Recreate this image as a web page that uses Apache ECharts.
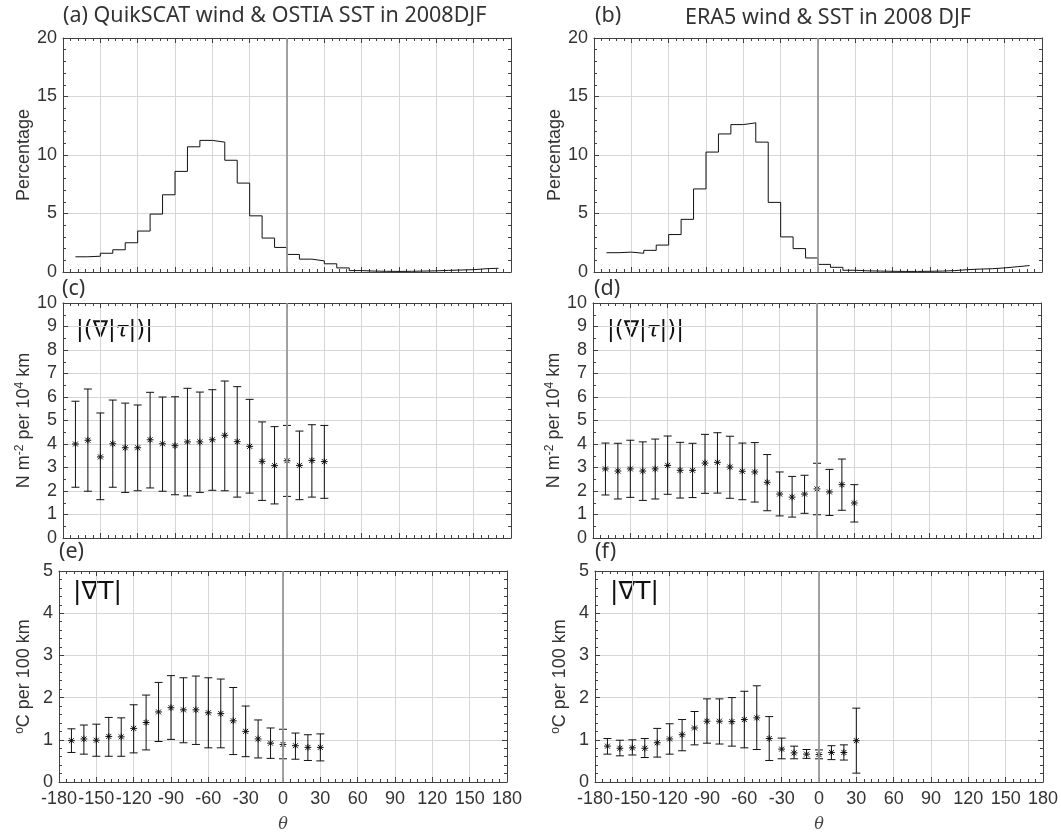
<!DOCTYPE html>
<html>
<head>
<meta charset="utf-8">
<script src="https://cdn.jsdelivr.net/npm/echarts@6/dist/echarts.min.js"></script>
<style>
	html, body { margin: 0; padding: 0; background: #fff; }
	#echart1 { width: 1061px; height: 834px; }
</style>
</head>
<body>
<div id="echart1"></div>
<script>
	// histogram bins (left edge of each step), percentage
	var histTheta = [-170,-160,-150,-140,-130,-120,-110,-100,-90,-80,-70,-60,-50,-40,-30,-20,-10,0,10,20,30,40,50,60,70,80,90,100,110,120,130,140,150,160,170];
	var histQuik = [1.3,1.35,1.6,1.9,2.5,3.5,4.95,6.6,8.6,10.7,11.25,11.1,9.55,7.6,4.8,2.9,2.1,1.5,1.1,0.95,0.7,0.35,0.12,0.08,0.06,0.05,0.06,0.08,0.1,0.14,0.17,0.2,0.28,0.32,0.35];
	var histEra = [1.65,1.7,1.6,1.85,2.3,3.2,4.5,7.1,10.25,11.8,12.6,12.75,11.1,5.95,3.0,2.0,1.2,0.65,0.4,0.15,0.1,0.08,0.06,0.05,0.05,0.06,0.08,0.12,0.2,0.25,0.28,0.35,0.45,0.55,0.6];

	// error-bar points
	var ptTheta = [-170,-160,-150,-140,-130,-120,-110,-100,-90,-80,-70,-60,-50,-40,-30,-20,-10,0,10,20,30];

	var tauQuikMean = [4.0,4.16,3.45,4.01,3.84,3.84,4.18,4.01,3.93,4.09,4.09,4.18,4.37,4.1,3.9,3.26,3.08,3.29,3.09,3.3,3.25];
	var tauQuikLow = [2.16,1.99,1.63,2.16,1.94,2.01,2.13,1.99,1.84,1.79,1.94,2.03,2.01,1.74,1.91,1.6,1.45,1.77,1.63,1.74,1.69];
	var tauQuikHigh = [5.82,6.34,5.32,5.87,5.74,5.66,6.2,6.0,6.01,6.37,6.21,6.31,6.68,6.44,5.9,4.94,4.74,4.79,4.55,4.82,4.79];

	var tauEraMean = [2.94,2.85,2.94,2.85,2.94,3.09,2.88,2.88,3.19,3.22,3.02,2.84,2.81,2.37,1.87,1.74,1.87,2.09,1.96,2.27,1.49];
	var tauEraLow = [1.83,1.66,1.73,1.6,1.66,1.86,1.7,1.72,1.9,1.91,1.69,1.63,1.53,1.16,0.94,0.89,1.05,0.99,0.96,1.18,0.68];
	var tauEraHigh = [4.04,4.03,4.16,4.09,4.21,4.34,4.07,4.03,4.41,4.48,4.33,4.04,4.06,3.55,2.81,2.62,2.67,3.18,2.92,3.36,2.27];

	var sstQuikMean = [0.98,1.02,0.99,1.08,1.07,1.27,1.41,1.66,1.76,1.71,1.71,1.64,1.62,1.45,1.2,1.02,0.92,0.89,0.86,0.82,0.82];
	var sstQuikLow = [0.70,0.66,0.61,0.61,0.61,0.69,0.76,0.96,1.01,0.93,0.89,0.81,0.81,0.65,0.6,0.57,0.56,0.55,0.54,0.51,0.5];
	var sstQuikHigh = [1.26,1.35,1.37,1.53,1.52,1.83,2.06,2.36,2.52,2.47,2.51,2.47,2.44,2.24,1.8,1.47,1.28,1.25,1.16,1.12,1.14];

	var sstEraMean = [0.85,0.8,0.81,0.8,0.93,1.02,1.12,1.28,1.44,1.44,1.43,1.48,1.52,1.03,0.78,0.69,0.66,0.65,0.7,0.7,0.98];
	var sstEraLow = [0.66,0.62,0.64,0.58,0.59,0.66,0.74,0.88,0.92,0.9,0.85,0.81,0.77,0.51,0.55,0.55,0.56,0.55,0.53,0.52,0.21];
	var sstEraHigh = [1.03,0.99,1.0,1.03,1.27,1.38,1.48,1.67,1.97,1.97,2.0,2.15,2.28,1.55,1.04,0.85,0.77,0.76,0.86,0.88,1.75];

	var axisColor = '#404040';
	var gridColor = '#d6d6d6';
	var labelFont = 'Liberation Sans, Arial, sans-serif';
	var titleFont = 'Noto Sans, Open Sans, sans-serif';

	function pairs(xs, ys) {
		var out = [];
		for (var i = 0; i < xs.length; i++) out.push([xs[i], ys[i]]);
		return out;
	}

	function rows(xs, m, lo, hi) {
		var out = [];
		for (var i = 0; i < xs.length; i++) out.push([xs[i], m[i], lo[i], hi[i]]);
		return out;
	}

	function renderErrorBar(params, api) {
		var x = api.value(0);
		var c = api.coord([x, api.value(1)]);
		var lo = api.coord([x, api.value(2)]);
		var hi = api.coord([x, api.value(3)]);
		var st = { stroke: '#111', lineWidth: 1 };
		var w = 4, s = 3.4, d = 2.5;
		return {
			type: 'group',
			children: [
				{ type: 'line', shape: { x1: lo[0], y1: lo[1], x2: hi[0], y2: hi[1] }, style: st },
				{ type: 'line', shape: { x1: lo[0] - w, y1: lo[1], x2: lo[0] + w, y2: lo[1] }, style: st },
				{ type: 'line', shape: { x1: hi[0] - w, y1: hi[1], x2: hi[0] + w, y2: hi[1] }, style: st },
				{ type: 'line', shape: { x1: c[0] - s, y1: c[1], x2: c[0] + s, y2: c[1] }, style: st },
				{ type: 'line', shape: { x1: c[0], y1: c[1] - s, x2: c[0], y2: c[1] + s }, style: st },
				{ type: 'line', shape: { x1: c[0] - d, y1: c[1] - d, x2: c[0] + d, y2: c[1] + d }, style: st },
				{ type: 'line', shape: { x1: c[0] - d, y1: c[1] + d, x2: c[0] + d, y2: c[1] - d }, style: st }
			]
		};
	}

	var zeroLine = {
		silent: true,
		symbol: 'none',
		label: { show: false },
		lineStyle: { color: '#9a9a9a', width: 1.8, type: 'solid' },
		data: [{ xAxis: 0 }]
	};

	var panels = [
		{ left: 63, top: 38, width: 448, height: 234, ymax: 20, yint: 5, yminor: 5, name: 'Percentage', xlab: false },
		{ left: 594, top: 38, width: 448, height: 234, ymax: 20, yint: 5, yminor: 5, name: 'Percentage', xlab: false },
		{ left: 63, top: 303, width: 448, height: 235, ymax: 10, yint: 1, yminor: 2, name: 'N m{sup|-2} per 10{sup|4} km', xlab: false },
		{ left: 593, top: 303, width: 448, height: 235, ymax: 10, yint: 1, yminor: 2, name: 'N m{sup|-2} per 10{sup|4} km', xlab: false },
		{ left: 59, top: 571, width: 448, height: 219, ymax: 5, yint: 1, yminor: 5, name: '{sup|o}C per 100 km', xlab: true },
		{ left: 595, top: 571, width: 448, height: 219, ymax: 5, yint: 1, yminor: 5, name: '{sup|o}C per 100 km', xlab: true }
	];

	function cal_option() {
		var grids = [], xAxes = [], yAxes = [];
		panels.forEach(function (p, i) {
			grids.push({ left: p.left, top: p.top, width: p.width, height: p.height, containLabel: false });
			var line = { show: true, onZero: false, lineStyle: { color: axisColor, width: 1 } };
			var tick = { show: true, inside: true, length: 5, lineStyle: { color: axisColor } };
			xAxes.push({
				type: 'value', gridIndex: i, position: 'bottom', min: -180, max: 180, interval: 30,
				axisLine: line, axisTick: tick,
				minorTick: { show: true, splitNumber: 5, length: 3, lineStyle: { color: axisColor } },
				splitLine: { show: true, lineStyle: { color: gridColor, width: 1 } },
				axisLabel: { show: p.xlab, fontFamily: labelFont, fontSize: 18, color: '#333', margin: 8, showMinLabel: true, showMaxLabel: true, hideOverlap: false },
				name: p.xlab ? 'θ' : '', nameLocation: 'middle', nameGap: 35,
				nameTextStyle: { fontFamily: 'DejaVu Serif, serif', fontStyle: 'italic', fontSize: 16, color: '#444' }
			});
			xAxes.push({
				type: 'value', gridIndex: i, position: 'top', min: -180, max: 180, interval: 30,
				axisLine: line, axisTick: tick,
				minorTick: { show: true, splitNumber: 5, length: 3, lineStyle: { color: axisColor } },
				splitLine: { show: false }, axisLabel: { show: false }
			});
			yAxes.push({
				type: 'value', gridIndex: i, position: 'left', min: 0, max: p.ymax, interval: p.yint,
				axisLine: line, axisTick: tick,
				minorTick: { show: true, splitNumber: p.yminor, length: 3, lineStyle: { color: axisColor } },
				splitLine: { show: true, lineStyle: { color: gridColor, width: 1 } },
				axisLabel: { fontFamily: labelFont, fontSize: 18, color: '#333', margin: 6, showMinLabel: true, showMaxLabel: true },
				name: p.name, nameLocation: 'middle', nameRotate: 90, nameGap: 25,
				nameTextStyle: {
					fontFamily: labelFont, fontSize: 18, color: '#333',
					rich: { sup: { fontFamily: labelFont, fontSize: 12, color: '#333', verticalAlign: 'top', padding: [0, 0, 8, 0] } }
				}
			});
			yAxes.push({
				type: 'value', gridIndex: i, position: 'right', min: 0, max: p.ymax, interval: p.yint,
				axisLine: line, axisTick: tick,
				minorTick: { show: true, splitNumber: p.yminor, length: 3, lineStyle: { color: axisColor } },
				splitLine: { show: false }, axisLabel: { show: false }
			});
		});

		var series = [
			{ type: 'line', xAxisIndex: 0, yAxisIndex: 0, step: 'end', showSymbol: false, symbol: 'none',
				lineStyle: { color: '#111', width: 1 }, data: pairs(histTheta, histQuik), markLine: zeroLine, animation: false },
			{ type: 'line', xAxisIndex: 2, yAxisIndex: 2, step: 'end', showSymbol: false, symbol: 'none',
				lineStyle: { color: '#111', width: 1 }, data: pairs(histTheta, histEra), markLine: zeroLine, animation: false }
		];
		var bars = [
			rows(ptTheta, tauQuikMean, tauQuikLow, tauQuikHigh),
			rows(ptTheta, tauEraMean, tauEraLow, tauEraHigh),
			rows(ptTheta, sstQuikMean, sstQuikLow, sstQuikHigh),
			rows(ptTheta, sstEraMean, sstEraLow, sstEraHigh)
		];
		bars.forEach(function (d, k) {
			var gi = k + 2;
			series.push({
				type: 'custom', xAxisIndex: gi * 2, yAxisIndex: gi * 2,
				renderItem: renderErrorBar, encode: { x: 0, y: [1, 2, 3] },
				data: d, markLine: zeroLine, animation: false, clip: true
			});
		});

		var tf = '21.5px ' + titleFont;
		var graphics = [
			{ type: 'text', left: 63, top: 5, style: { text: '(a) QuikSCAT wind & OSTIA SST in 2008DJF', font: tf, fill: '#333' } },
			{ type: 'text', left: 595, top: 5, style: { text: '(b)', font: tf, fill: '#333' } },
			{ type: 'text', x: 828, y: 18, style: { text: 'ERA5 wind & SST in 2008 DJF', font: tf, fill: '#333', align: 'center', verticalAlign: 'middle' } },
			{ type: 'text', left: 62, top: 278, style: { text: '(c)', font: tf, fill: '#333' } },
			{ type: 'text', left: 594, top: 278, style: { text: '(d)', font: tf, fill: '#333' } },
			{ type: 'text', left: 59, top: 541, style: { text: '(e)', font: tf, fill: '#333' } },
			{ type: 'text', left: 595, top: 541, style: { text: '(f)', font: tf, fill: '#333' } },
			{ type: 'text', left: 76, top: 320, style: { text: '|(∇|{t|τ}|)|', font: '23px DejaVu Sans', fill: '#111', rich: { t: { fontFamily: 'DejaVu Serif', fontStyle: 'italic', fontSize: 23, fill: '#111' } } } },
			{ type: 'text', left: 607, top: 320, style: { text: '|(∇|{t|τ}|)|', font: '23px DejaVu Sans', fill: '#111', rich: { t: { fontFamily: 'DejaVu Serif', fontStyle: 'italic', fontSize: 23, fill: '#111' } } } },
			{ type: 'text', left: 73, top: 580, style: { text: '|∇T|', font: '25px DejaVu Sans', fill: '#111' } },
			{ type: 'text', left: 610, top: 580, style: { text: '|∇T|', font: '25px DejaVu Sans', fill: '#111' } }
		];

		return {
			backgroundColor: '#fff',
			animation: false,
			grid: grids,
			xAxis: xAxes,
			yAxis: yAxes,
			series: series,
			graphic: graphics
		};
	}

	function draw_charts() {
		var myChart = echarts.init(document.getElementById('echart1'));
		myChart.setOption(cal_option());
	}

	draw_charts();
</script>
</body>
</html>
